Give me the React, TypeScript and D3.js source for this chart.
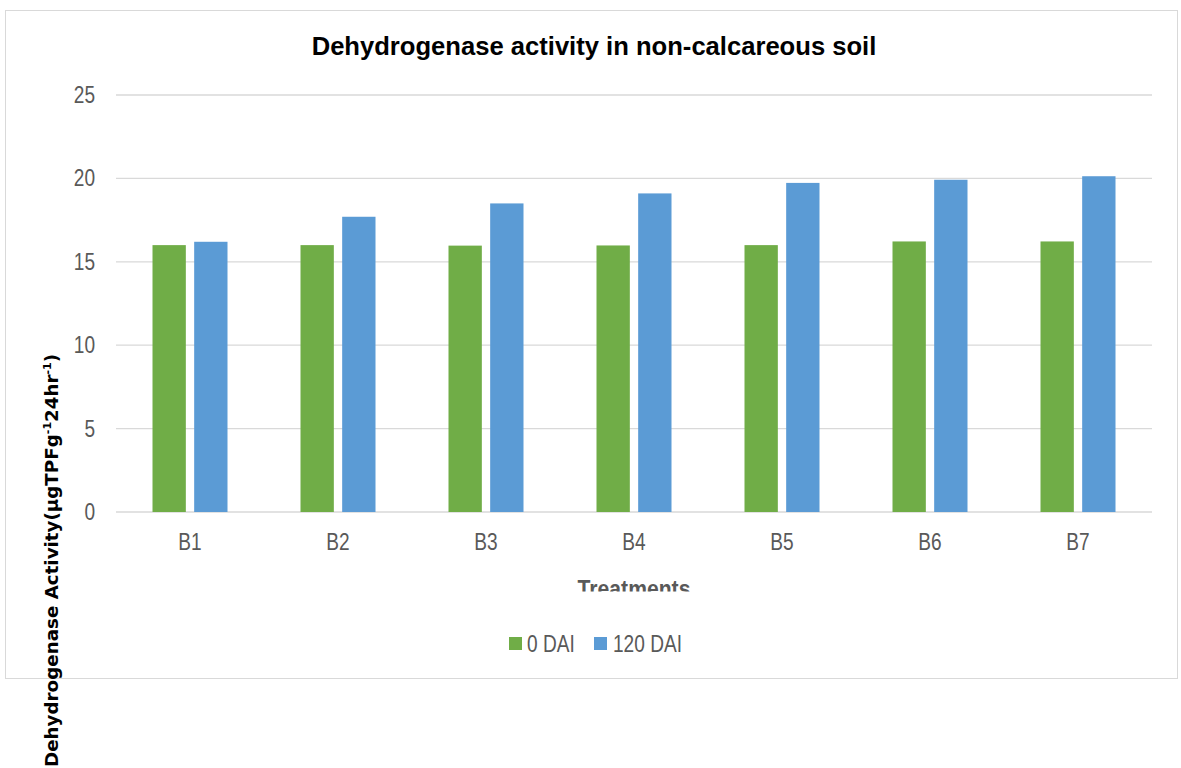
import React, { useRef, useEffect } from 'react';
import * as d3 from 'd3';

const treatments = ['B1', 'B2', 'B3', 'B4', 'B5', 'B6', 'B7'];
const seriesNames = ['0 DAI', '120 DAI'];
const dai0 = [16.0, 16.0, 15.97, 15.98, 16.0, 16.22, 16.22];
const dai120 = [16.2, 17.7, 18.5, 19.1, 19.73, 19.92, 20.13];
const yTicks = [0, 5, 10, 15, 20, 25];
const colors = ['#70AD47', '#5B9BD5'];

const App = () => {
    const chartRef = useRef<SVGSVGElement>(null);

    useEffect(() => {
        const root = d3.select(chartRef.current);
        root.selectAll('*').remove();

        const W = 1181;
        const font = '"Liberation Sans", Arial, sans-serif';
        const grey = '#595959';
        const narrow = 0.83; // squeeze to mimic the condensed label font

        // helper for the condensed grey labels
        const label = (g: any, x: number, y: number, txt: string, anchor: string, size = 23, sx = narrow) =>
            g.append('text')
                .attr('transform', `translate(${x},${y}) scale(${sx},1)`)
                .attr('text-anchor', anchor)
                .attr('fill', grey)
                .style('font-family', font)
                .style('font-size', `${size}px`)
                .text(txt);

        // outer chart frame
        root.append('rect')
            .attr('x', 5.5).attr('y', 10.5)
            .attr('width', 1172).attr('height', 668)
            .attr('fill', '#fff')
            .attr('stroke', '#D9D9D9');

        const plot = { left: 116, right: 1152, top: 95, bottom: 512 };

        const x = d3.scaleBand()
            .domain(treatments)
            .range([plot.left, plot.right]);

        const y = d3.scaleLinear()
            .domain([0, 25])
            .range([plot.bottom, plot.top]);

        const inner = d3.scaleBand()
            .domain(seriesNames)
            .range([0, 75])
            .paddingInner(0.2);

        // gridlines
        root.append('g')
            .selectAll('line')
            .data(yTicks)
            .enter()
            .append('line')
            .attr('x1', plot.left)
            .attr('x2', plot.right)
            .attr('y1', (d) => y(d))
            .attr('y2', (d) => y(d))
            .attr('stroke', '#D9D9D9')
            .attr('stroke-width', 1.3);

        // y tick labels
        const yLab = root.append('g');
        yTicks.forEach((t) => label(yLab, 95, y(t) + 8, String(t), 'end'));

        // bars
        const series = [dai0, dai120];
        series.forEach((vals, si) => {
            root.append('g')
                .selectAll('rect')
                .data(vals)
                .enter()
                .append('rect')
                .attr('x', (d, i) => (x(treatments[i]) as number) + (x.bandwidth() - 75) / 2 + (inner(seriesNames[si]) as number))
                .attr('y', (d) => y(d))
                .attr('width', inner.bandwidth())
                .attr('height', (d) => y(0) - y(d))
                .attr('fill', colors[si]);
        });

        // x tick labels
        const xLab = root.append('g');
        treatments.forEach((t) => label(xLab, (x(t) as number) + x.bandwidth() / 2, 550, t, 'middle'));

        // x axis title, clipped at the bottom like the original
        root.append('clipPath')
            .attr('id', 'xtitle-clip')
            .append('rect')
            .attr('x', 0).attr('y', 560)
            .attr('width', W).attr('height', 31.5);

        root.append('g')
            .attr('clip-path', 'url(#xtitle-clip)')
            .append('text')
            .attr('transform', 'translate(634,597) scale(0.92,1)')
            .attr('text-anchor', 'middle')
            .attr('fill', grey)
            .style('font-family', font)
            .style('font-size', '23px')
            .style('font-weight', 'bold')
            .text('Treatments');

        // title
        root.append('text')
            .attr('x', 594)
            .attr('y', 55)
            .attr('text-anchor', 'middle')
            .attr('fill', '#000')
            .style('font-family', font)
            .style('font-size', '25.6px')
            .style('font-weight', 'bold')
            .text('Dehydrogenase activity in non-calcareous soil');

        // y axis title
        const yt = root.append('text')
            .attr('transform', 'translate(58, 767) rotate(-90)')
            .attr('text-anchor', 'start')
            .attr('fill', '#000')
            .style('font-family', '"DejaVu Sans", sans-serif')
            .style('font-size', '18.3px')
            .style('font-weight', 'bold');
        yt.append('tspan').text('Dehydrogenase Activity(μgTPFg');
        yt.append('tspan').attr('dy', -7).style('font-size', '11px').text('-1');
        yt.append('tspan').attr('dy', 7).text('24hr');
        yt.append('tspan').attr('dy', -7).style('font-size', '11px').text('-1');
        yt.append('tspan').attr('dy', 7).text(')');

        // legend
        const legend = root.append('g');
        const legendX = [509, 594];
        const legendTextX = [527, 613];
        seriesNames.forEach((name, i) => {
            legend.append('rect')
                .attr('x', legendX[i])
                .attr('y', 637)
                .attr('width', 13)
                .attr('height', 13)
                .attr('fill', colors[i]);
            label(legend, legendTextX[i], 652, name, 'start');
        });
    }, []);

    return (
        <svg
            ref={chartRef}
            width={1181}
            height={768}
            style={{ position: 'absolute', left: 0, top: 0, display: 'block', background: '#fff' }}
        ></svg>
    );
};

export default App;
